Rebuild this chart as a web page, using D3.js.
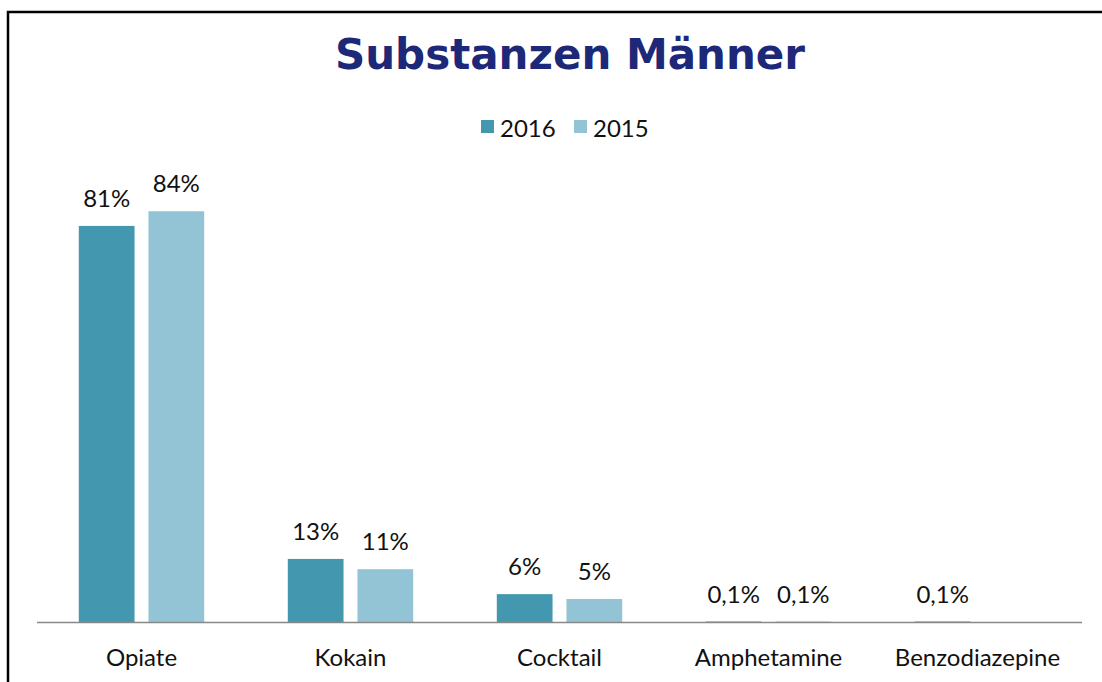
<!DOCTYPE html>
<html>
<head>
<meta charset="utf-8">
<script src="https://cdn.jsdelivr.net/npm/d3@7"></script>
<style>
  body { margin: 0; background: #fff; }
  svg { display: block; }
</style>
</head>
<body>
<svg id="canvas" width="1102" height="682"></svg>
<script>
const categories = ['Opiate', 'Kokain', 'Cocktail', 'Amphetamine', 'Benzodiazepine']
const years = ['2016', '2015']
const values2016 = [81, 12.9, 5.7, 0.1, 0.1]
const values2015 = [84, 10.8, 4.7, 0.1, null]
const colors = ['#4398b0', '#93c4d6']

let canvas = d3.select('#canvas')
const baseY = 622
const fontSize = 24

// chart frame (runs off right and bottom edges)
canvas.append('rect')
  .attr('x', 8).attr('y', 12)
  .attr('width', 1200).attr('height', 800)
  .attr('fill', 'none').attr('stroke', '#000').attr('stroke-width', 2.5)

canvas.append('text')
  .attr('x', 570).attr('y', 69)
  .attr('text-anchor', 'middle')
  .attr('font-family', 'DejaVu Sans')
  .attr('font-weight', 'bold')
  .attr('font-size', 42)
  .attr('fill', '#1d2878')
  .text('Substanzen Männer')

let x0 = d3.scaleBand().domain(categories).range([37, 1082]).paddingInner(0.4).paddingOuter(0.2)
let x1 = d3.scaleBand().domain(years).range([0, x0.bandwidth()]).paddingInner(0.2)
let y = d3.scaleLinear().domain([0, 100]).range([baseY, baseY - 489])

const fmtDec = d3.formatLocale({ decimal: ',', thousands: '.', grouping: [3], currency: ['', '€'] }).format('.1f')
const fmt = (v) => v >= 1 ? Math.round(v) + '%' : fmtDec(v) + '%'

let rows = []
categories.forEach((c, i) => {
  rows.push({ cat: c, year: '2016', v: values2016[i], color: colors[0] })
  rows.push({ cat: c, year: '2015', v: values2015[i], color: colors[1] })
})
rows = rows.filter(d => d.v != null)

canvas.append('g').selectAll('rect')
  .data(rows)
  .enter()
  .append('rect')
  .attr('x', d => x0(d.cat) + x1(d.year))
  .attr('width', x1.bandwidth())
  .attr('y', d => y(d.v))
  .attr('height', d => baseY - y(d.v))
  .attr('fill', d => d.color)

canvas.append('g').selectAll('text')
  .data(rows)
  .enter()
  .append('text')
  .attr('x', d => x0(d.cat) + x1(d.year) + x1.bandwidth() / 2)
  .attr('y', d => y(d.v) - 19)
  .attr('text-anchor', 'middle')
  .attr('font-family', 'Lato')
  .attr('font-size', fontSize)
  .attr('fill', '#111')
  .text(d => fmt(d.v))

// x axis
let xAxis = d3.axisBottom(x0).tickSize(0).tickPadding(27)
let ax = canvas.append('g').attr('transform', `translate(0,${baseY})`).call(xAxis)
ax.select('.domain').attr('stroke', '#888').attr('stroke-width', 1.5).attr('d', 'M37,0.5H1082')
ax.selectAll('text')
  .attr('font-family', 'Lato')
  .attr('font-size', fontSize)
  .attr('fill', '#111')

// legend
let leg = canvas.append('g')
const legX = [481, 574]
years.forEach((yr, i) => {
  leg.append('rect').attr('x', legX[i]).attr('y', 120).attr('width', 13).attr('height', 13).attr('fill', colors[i])
  leg.append('text').attr('x', legX[i] + 19).attr('y', 137)
    .attr('font-family', 'Lato').attr('font-size', fontSize).attr('fill', '#111')
    .text(yr)
})
</script>
</body>
</html>
